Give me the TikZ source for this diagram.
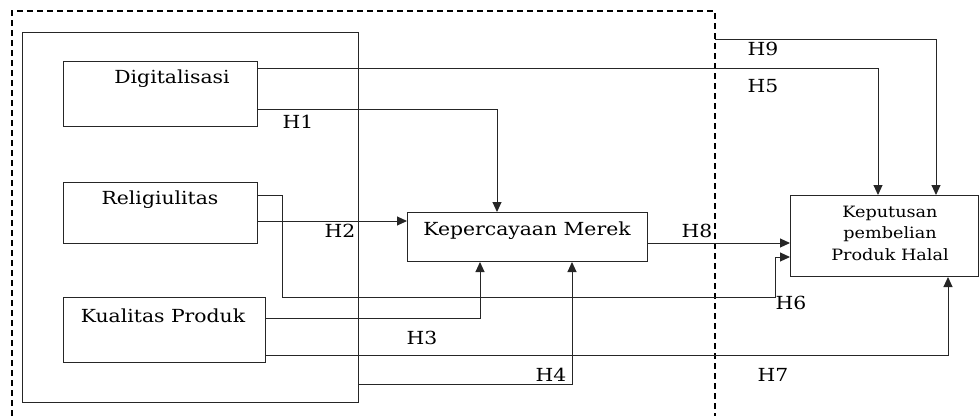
\documentclass[tikz,border=0pt]{standalone}
\usepackage{fontspec}
\setmainfont{DejaVu Serif}
\usetikzlibrary{arrows.meta}
\newcommand{\hs}[1]{\scalebox{1.13}[1]{#1}}
\tikzset{
  conn/.style={line width=1pt, draw=black!85},
  arr/.style={conn, -{Triangle[length=10pt,width=9pt]}},
  boxn/.style={draw=black!85, line width=1pt, inner sep=0pt, anchor=north west},
  txt/.style={inner sep=0pt, font=\fontsize{18}{21.5}\selectfont},
  smalltxt/.style={inner sep=0pt, font=\fontsize{15.6}{21.5}\selectfont},
  lbl/.style={inner sep=0pt, font=\fontsize{18}{21.5}\selectfont},
}
\begin{document}
\begin{tikzpicture}[x=1pt,y=-1pt]
\useasboundingbox (0,0) rectangle (980,416);
% dashed region
\draw[line width=1.8pt, dash pattern=on 6pt off 4pt] (12,416) -- (12,11) -- (715,11) -- (715,416);
\coordinate (dr) at (715,39);
% outer box
\node[boxn, minimum width=336pt, minimum height=370pt] (outer) at (22,32) {};
% boxes
\node[boxn, minimum width=194pt, minimum height=65pt] (dig) at (63,61) {};
\node[boxn, minimum width=194pt, minimum height=61pt] (rel) at (63,182) {};
\node[boxn, minimum width=202pt, minimum height=65pt] (kua) at (63,297) {};
\node[boxn, minimum width=240pt, minimum height=49pt] (kep) at (407,212) {};
\node[boxn, minimum width=188pt, minimum height=81pt] (kpt) at (790,195) {};
% texts
\node[txt] (tdig) at (172,79) {\hs{Digitalisasi}};
\node[txt] (trel) at (160,200) {\hs{Religiulitas}};
\node[txt] (tkua) at (163,316) {\hs{Kualitas Produk}};
\node[txt] (tkep) at (527,231) {\hs{Kepercayaan Merek}};
\node[smalltxt, align=center] (tkpt) at (890,233) {\hs{Keputusan}\\\hs{pembelian}\\\hs{Produk Halal}};
% connectors
\draw[arr] (dig.east |- 0,109) -| (kep.north -| 497,0);
\draw[arr] (dig.east |- 0,68) -| (kpt.north -| 878,0);
\draw[arr] (dr) -| (kpt.north -| 936,0);
\draw[arr] (rel.east |- 0,221) -- (kep.west |- 0,221);
\draw[arr] (rel.east |- 0,195) -- (282,195) -- (282,297) -- (775,297) -- (775,257) -- (kpt.west |- 0,257);
\draw[arr] (kep.east |- 0,243) -- (kpt.west |- 0,243);
\draw[arr] (kua.east |- 0,318) -| (kep.south -| 480,0);
\draw[arr] (kua.east |- 0,355) -| (kpt.south -| 948,0);
\draw[arr] (outer.east |- 0,384) -| (kep.south -| 572,0);
% labels
\node[lbl] (h1) at (298,122) {\hs{H1}};
\node[lbl] (h2) at (340,231) {\hs{H2}};
\node[lbl] (h3) at (422,338) {\hs{H3}};
\node[lbl] (h4) at (551,375) {\hs{H4}};
\node[lbl] (h5) at (763,86) {\hs{H5}};
\node[lbl] (h6) at (791,303) {\hs{H6}};
\node[lbl] (h7) at (773,375) {\hs{H7}};
\node[lbl] (h8) at (697,231) {\hs{H8}};
\node[lbl] (h9) at (763,49) {\hs{H9}};
\end{tikzpicture}
\end{document}
